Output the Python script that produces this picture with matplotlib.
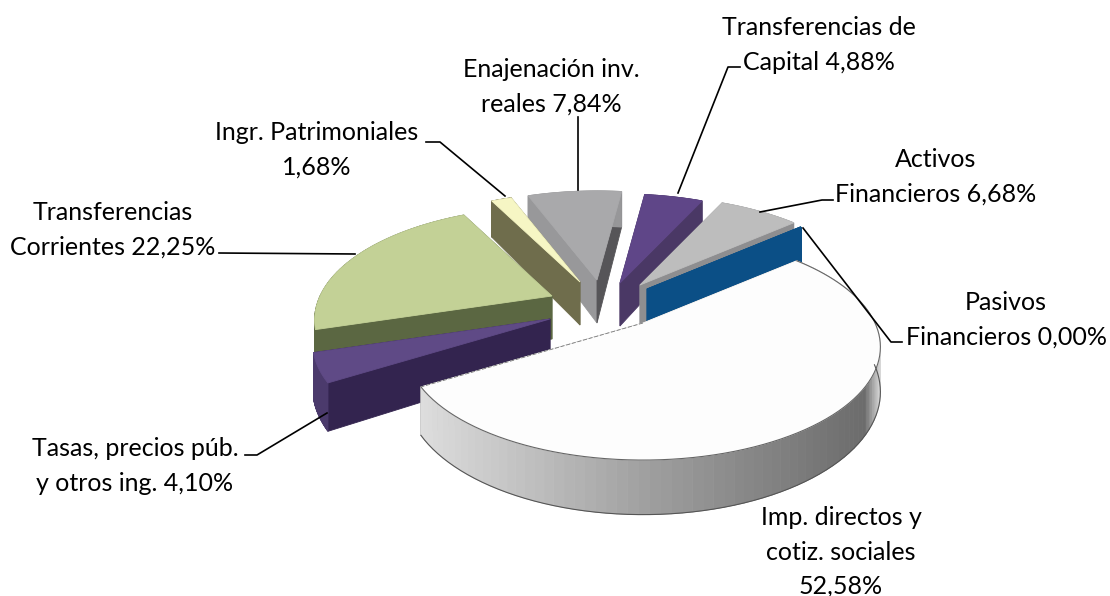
#code:utf-8
import numpy as np
from matplotlib import pyplot as plt
from matplotlib import colors as mcolors
from matplotlib.patches import Polygon

plt.rcParams['font.family'] = ['Lato', 'DejaVu Sans']

# datos, en sentido horario desde el primer sector
names = ["Imp. directos y\ncotiz. sociales\n{}%",
         "Tasas, precios púb.\ny otros ing. {}%",
         "Transferencias\nCorrientes {}%",
         "Ingr. Patrimoniales\n{}%",
         "Enajenación inv.\nreales {}%",
         "Transferencias de\nCapital {}%",
         "Activos\nFinancieros {}%",
         "Pasivos\nFinancieros {}%"]
values = [52.58, 4.10, 22.25, 1.68, 7.84, 4.88, 6.68, 0.00]

top_colors = ['#fdfdfd', '#5f4a86', '#c3d196', '#f6f6c4', '#a9a9ab', '#5f4688', '#bdbdbd', '#0b4f86']
# pared recta izquierda / derecha y pared curva
edge_colors = ['#8a8a8a', '#33244f', '#5b6742', '#6f6d4c', '#565558', '#4a3865', '#8e8e90', '#0b4f86']
start_colors = ['#8a8a8a', '#33244f', '#5b6742', '#6f6d4c', '#98989a', '#4a3865', '#9a9a9c', '#0b4f86']
side_colors = ['#999999', '#4b3a6c', '#5b6742', '#6f6d4c', '#98989a', '#4a3865', '#8e8e90', '#0b4f86']

# apice de cada sector en pixeles y orden de dibujo (de atras hacia delante)
apex = [(643, 323), (550, 319), (552, 296), (580, 282), (597, 280), (620, 283), (640, 285), (647, 289)]
order = [4, 5, 6, 7, 3, 2, 1, 0]

start_angle = 41.0
RX = 232.0
RY = 108.0
DEPTH = 43.0
PERSP = 0.212
LW = 0.6

# textos: centro de la etiqueta
label_pos = [(841, 552), (135, 466), (113, 230), (317, 150), (551, 87), (819, 45), (936, 177), (1006, 320)]
leaders = [None,
           [(327, 413), (257, 455), (245, 455)],
           [(355, 254), (219, 253)],
           [(505, 196), (440, 142), (426, 142)],
           [(578, 190), (578, 117)],
           [(678, 193), (728, 67), (740, 67)],
           [(760, 212), (822, 200), (833, 200)],
           [(803, 228), (891, 342), (902, 342)]]


def project(theta, ap, h=0.0):
    t = np.radians(theta)
    u = np.cos(t)
    v = -np.sin(t)
    w = 1 - PERSP * v
    return ap[0] + RX * u / w, ap[1] + (RY * v + h) / w


def blend(a, b, t):
    a = np.array(mcolors.to_rgb(a))
    b = np.array(mcolors.to_rgb(b))
    return a + (b - a) * t


def draw_slice(ax, i, a0, a1, zorder):
    ap = apex[i]
    ths = np.linspace(a0, a1, 90)
    x, y = project(ths, ap)
    xb, yb = project(ths, ap, DEPTH)
    apb = (ap[0], ap[1] + DEPTH)

    # paredes rectas
    for k, col in ((0, start_colors[i]), (-1, edge_colors[i])):
        ax.add_patch(Polygon([ap, (x[k], y[k]), (xb[k], yb[k]), apb], closed=True,
                             fc=col, ec=col, lw=LW, zorder=zorder))
    # pared curva
    for k in range(len(ths) - 1):
        if i == 0:
            # degradado del sector grande
            f = (x[k] - 420) / 460.0
            if f < 0.5:
                col = blend('#dedede', '#a0a0a0', f / 0.5)
            elif f < 0.97:
                col = blend('#a0a0a0', '#6c6c6c', (f - 0.5) / 0.47)
            else:
                col = blend('#6c6c6c', '#d8d8d8', min((f - 0.97) / 0.03, 1))
        else:
            col = side_colors[i]
        ax.add_patch(Polygon([(x[k], y[k]), (x[k + 1], y[k + 1]), (xb[k + 1], yb[k + 1]), (xb[k], yb[k])],
                             closed=True, fc=col, ec=col, lw=LW, zorder=zorder))
    # cara superior
    pts = [ap] + list(zip(x, y))
    ax.add_patch(Polygon(pts, closed=True, fc=top_colors[i], ec=top_colors[i], lw=LW, zorder=zorder))
    if i == 0:
        front = np.sin(np.radians(ths)) < 0.02
        ax.plot(x, y, color='#666666', lw=0.8, zorder=zorder)
        ax.plot(xb[front], yb[front], color='#555555', lw=0.8, zorder=zorder)
        ax.plot([ap[0], x[-1]], [ap[1], y[-1]], color='#777777', lw=0.6, ls=(0, (5, 2)), zorder=zorder)


fig = plt.figure(figsize=(11.1, 5.96), dpi=100)
ax = fig.add_axes([0, 0, 1, 1])
ax.set_xlim(0, 1110)
ax.set_ylim(596, 0)
ax.axis('off')

total = sum(values)
sweep = np.array(values) / total * 360.0
ends = start_angle - np.cumsum(sweep)
starts = ends + sweep

for z, i in enumerate(order):
    draw_slice(ax, i, starts[i], ends[i], z + 2)

for i in range(len(values)):
    pct = ("%.2f" % values[i]).replace('.', ',')
    ax.text(label_pos[i][0], label_pos[i][1], names[i].format(pct), ha='center', va='center',
            fontsize=18, color='black', linespacing=1.6, zorder=20)
    if leaders[i] is not None:
        xs, ys = zip(*leaders[i])
        ax.plot(xs, ys, color='black', lw=1.2, zorder=19)

plt.savefig("out.png", dpi=100)
